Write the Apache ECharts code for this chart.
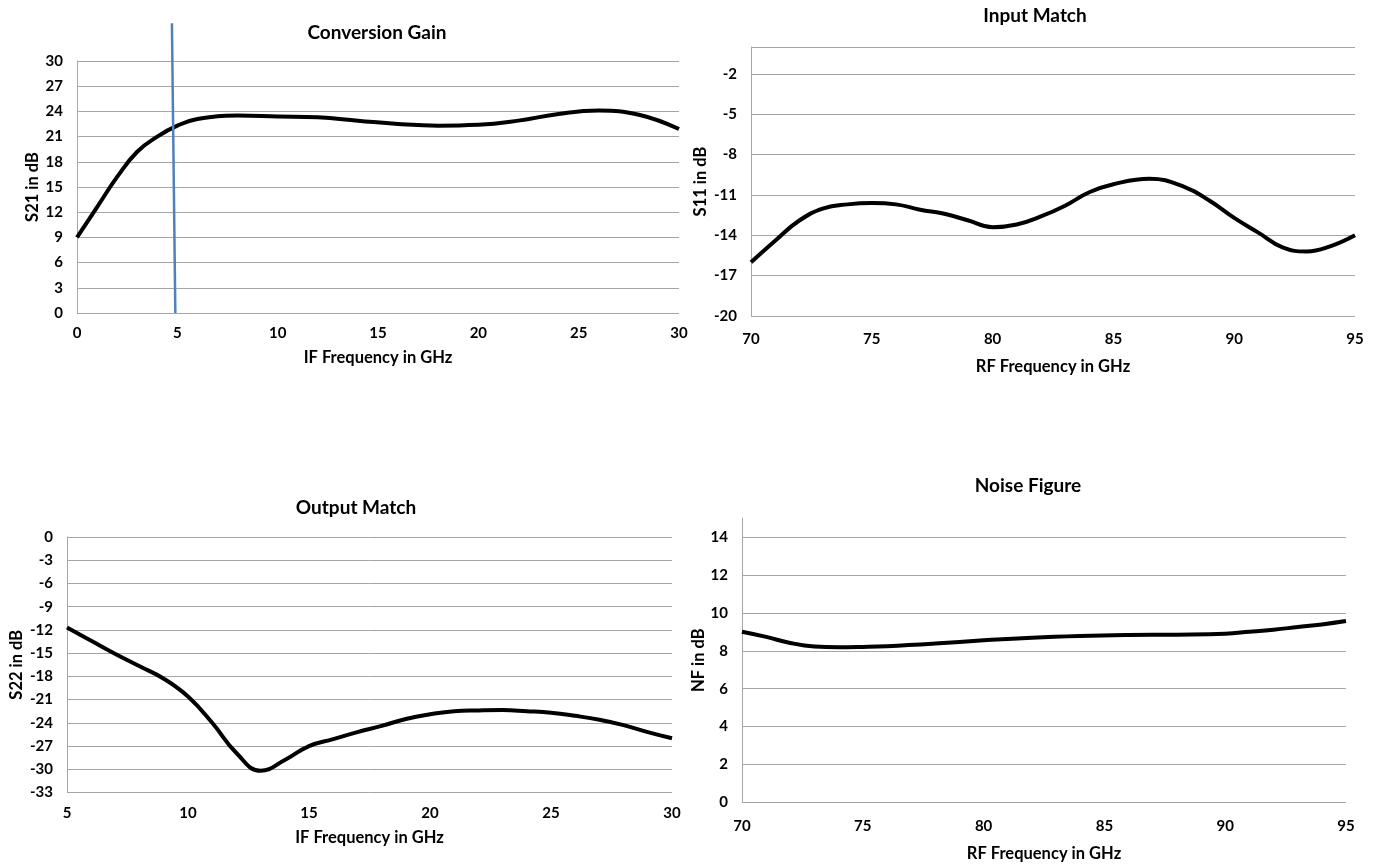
<!DOCTYPE html>
<html>
<head>
<meta charset="utf-8">
<title>Mixer Performance</title>
<script src="https://cdn.jsdelivr.net/npm/echarts@6.0.0/dist/echarts.min.js"></script>
<style>
  html, body { margin: 0; padding: 0; background: #ffffff; }
  #chart { width: 1375px; height: 865px; }
</style>
</head>
<body>
<div id="chart"></div>
<script>
// Conversion gain vs IF frequency
const gainFreq = [0, 1, 2, 3, 4, 5, 6, 8, 10, 12, 14, 16, 18, 20, 22, 24, 26, 28, 30];
const gainDb = [9.0, 12.6, 16.2, 19.2, 21.0, 22.3, 23.1, 23.5, 23.4, 23.3, 22.9, 22.5, 22.3, 22.4, 22.9, 23.7, 24.1, 23.6, 21.9];

// IF band edge marker (frequency at top and bottom end, dB span)
const edgeFreq = [4.73, 4.9];
const edgeDb = [34.5, 0];

// Input match vs RF frequency
const s11Freq = [70, 71, 72, 73, 74, 75, 76, 77, 78, 79, 80, 81, 82, 83, 84, 85, 86.5, 88, 89, 90, 91, 92, 93, 94, 95];
const s11Db = [-16.0, -14.4, -12.9, -12.0, -11.7, -11.6, -11.7, -12.1, -12.4, -12.9, -13.4, -13.2, -12.6, -11.8, -10.8, -10.2, -9.8, -10.45, -11.45, -12.7, -13.8, -14.9, -15.2, -14.8, -14.0];

// Output match vs IF frequency
const s22Freq = [5, 6, 7, 8, 9, 10, 11, 12, 13, 14, 15, 16, 17, 18, 19, 20, 21, 22, 23, 24, 25, 26, 27, 28, 29, 30];
const s22Db = [-11.7, -13.4, -15.1, -16.7, -18.3, -20.6, -24.0, -27.9, -30.2, -28.8, -27.0, -26.1, -25.2, -24.4, -23.5, -22.9, -22.5, -22.4, -22.35, -22.5, -22.7, -23.1, -23.6, -24.3, -25.2, -26.0];

// Noise figure vs RF frequency
const nfFreq = [70, 71, 72, 73, 74, 75, 76, 78, 80, 82, 84, 86, 88, 90, 91, 92, 93, 94, 95];
const nfDb = [9.0, 8.73, 8.41, 8.22, 8.18, 8.2, 8.24, 8.38, 8.55, 8.69, 8.78, 8.83, 8.85, 8.9, 9.0, 9.11, 9.25, 9.39, 9.57];

// Tick values
const s11Ticks = [-20, -17, -14, -11, -8, -5, -2];
const nfTicks = [0, 2, 4, 6, 8, 10, 12, 14];

const FONT = 'Lato, "Open Sans", sans-serif';
const TEXT = '#000000';
const GRID_COLOR = '#a6a6a6';

function pairs(xs, ys) {
  return xs.map((x, i) => [x, ys[i]]);
}

const nameStyle = { fontFamily: FONT, fontWeight: 'bold', fontSize: 16.5, color: TEXT };
const tickStyle = { fontFamily: FONT, fontWeight: 'bold', fontSize: 15, color: TEXT };

function xAxisCfg(gridIndex, min, max, name, nameGap, margin) {
  return {
    type: 'value', gridIndex, min, max, interval: 5,
    name, nameLocation: 'middle', nameGap,
    nameTextStyle: nameStyle,
    axisLine: { show: false },
    axisTick: { show: false },
    splitLine: { show: false },
    axisLabel: Object.assign({ margin }, tickStyle)
  };
}

function yAxisCfg(gridIndex, extra, name, nameGap) {
  return Object.assign({
    type: 'value', gridIndex,
    name, nameLocation: 'middle', nameGap,
    nameTextStyle: nameStyle,
    axisLine: { show: true, lineStyle: { color: GRID_COLOR, width: 1 } },
    axisTick: { show: false },
    splitLine: { show: true, lineStyle: { color: GRID_COLOR, width: 1 } },
    axisLabel: Object.assign({ margin: 14 }, tickStyle)
  }, extra);
}

function curve(xAxisIndex, yAxisIndex, data) {
  return {
    type: 'line', xAxisIndex, yAxisIndex, data,
    smooth: 0.45, showSymbol: false, symbol: 'none',
    lineStyle: { color: '#000000', width: 4 },
    z: 3
  };
}

const titleStyle = { fontFamily: FONT, fontWeight: 'bold', fontSize: 19, color: TEXT };

const option = {
  animation: false,
  backgroundColor: '#ffffff',
  title: [
    { text: 'Conversion Gain', left: 377, top: 23, textAlign: 'center', padding: 0, textStyle: titleStyle },
    { text: 'Input Match', left: 1035, top: 6, textAlign: 'center', padding: 0, textStyle: titleStyle },
    { text: 'Output Match', left: 356, top: 498, textAlign: 'center', padding: 0, textStyle: titleStyle },
    { text: 'Noise Figure', left: 1028, top: 476, textAlign: 'center', padding: 0, textStyle: titleStyle }
  ],
  grid: [
    { left: 77, top: 61, width: 602, height: 252 },
    { left: 751, top: 47, width: 604, height: 269 },
    { left: 67, top: 537, width: 605, height: 255.5 },
    { left: 742, top: 518, width: 604, height: 284.5 },
    { left: 77, top: 23.2, width: 602, height: 289.8 }
  ],
  xAxis: [
    xAxisCfg(0, 0, 30, 'IF Frequency in GHz', 36, 13),
    xAxisCfg(1, 70, 95, 'RF Frequency in GHz', 42, 16),
    xAxisCfg(2, 5, 30, 'IF Frequency in GHz', 37, 13),
    xAxisCfg(3, 70, 95, 'RF Frequency in GHz', 43, 16),
    { type: 'value', gridIndex: 4, min: 0, max: 30, show: false }
  ],
  yAxis: [
    yAxisCfg(0, { min: 0, max: 30, interval: 3 }, 'S21 in dB', 36),
    yAxisCfg(1, {
      min: -20, max: 0,
      axisTick: { show: false, customValues: s11Ticks.concat([0]) },
      axisLabel: Object.assign({ margin: 14, customValues: s11Ticks }, tickStyle)
    }, 'S11 in dB', 42),
    yAxisCfg(2, { min: -33, max: 0, interval: 3 }, 'S22 in dB', 42),
    yAxisCfg(3, {
      min: 0, max: 15,
      axisTick: { show: false, customValues: nfTicks },
      axisLabel: Object.assign({ margin: 14, customValues: nfTicks }, tickStyle)
    }, 'NF in dB', 35),
    { type: 'value', gridIndex: 4, min: 0, max: 34.5, show: false }
  ],
  series: [
    curve(0, 0, pairs(gainFreq, gainDb)),
    curve(1, 1, pairs(s11Freq, s11Db)),
    curve(2, 2, pairs(s22Freq, s22Db)),
    curve(3, 3, pairs(nfFreq, nfDb)),
    {
      type: 'line', xAxisIndex: 4, yAxisIndex: 4,
      data: pairs(edgeFreq, edgeDb),
      showSymbol: false, symbol: 'none',
      lineStyle: { color: '#4f81bd', width: 2.5 },
      z: 4
    }
  ]
};

const chart = echarts.init(document.getElementById('chart'), null, { renderer: 'canvas' });
chart.setOption(option);
</script>
</body>
</html>
